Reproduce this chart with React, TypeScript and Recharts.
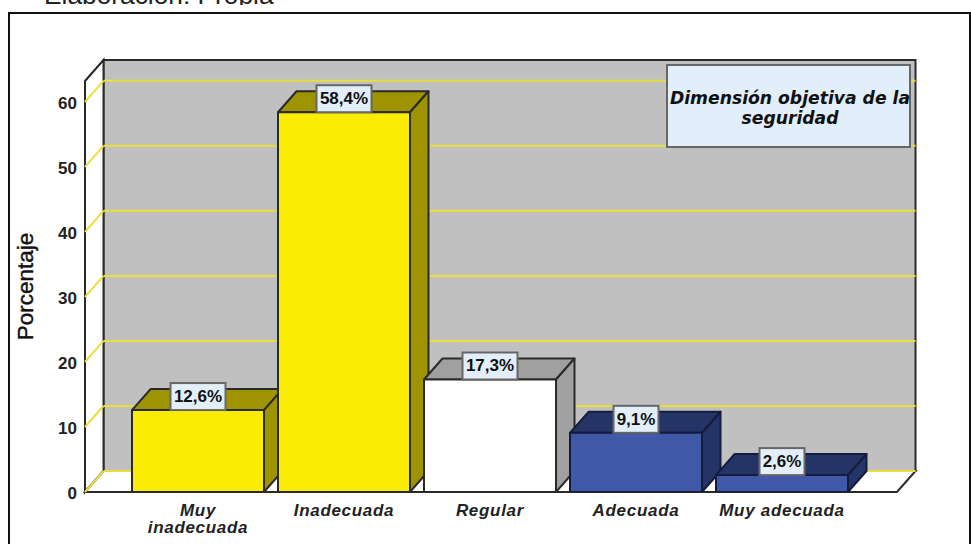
import { Bar, BarChart, CartesianGrid, LabelList, XAxis, YAxis } from "recharts";

const categories = ["Muy inadecuada", "Inadecuada", "Regular", "Adecuada", "Muy adecuada"];
const values = [12.6, 58.4, 17.3, 9.1, 2.6];
const valueLabels = ["12,6%", "58,4%", "17,3%", "9,1%", "2,6%"];
const yTicks = [0, 10, 20, 30, 40, 50, 60];
const frontFills = ["#fbec05", "#fbec05", "#ffffff", "#3f59a8", "#3f59a8"];
const sideFills = ["#9e9300", "#9e9300", "#a0a0a0", "#253466", "#253466"];

const data = categories.map((name, i) => ({ name, value: values[i] }));

const DX = 18.5;
const DY = 21;
const PLOT_LEFT = 85;
const PLOT_RIGHT = 897;
const PLOT_TOP = 81;
const PLOT_BOTTOM = 492;
const EDGE = "#2a2a2a";
const GRID = "#e9df3c";

function Bar3D(props: any) {
  const { x, y, width, height, index } = props;
  const stroke = index >= 3 ? "#141c3c" : EDGE;
  return (
    <g stroke={stroke} strokeWidth={2} strokeLinejoin="round">
      <path
        d={`M${x} ${y} L${x + DX} ${y - DY} H${x + width + DX} L${x + width} ${y} Z`}
        fill={sideFills[index]}
      />
      <path
        d={`M${x + width} ${y} L${x + width + DX} ${y - DY} V${y + height - DY} L${x + width} ${y + height} Z`}
        fill={sideFills[index]}
      />
      <rect x={x} y={y} width={width} height={height} fill={frontFills[index]} />
    </g>
  );
}

function ValueLabel(props: any) {
  const { x, y, width, index } = props;
  const text = valueLabels[index];
  const boxW = text.length > 4 ? 55 : 45;
  const cx = x + width / 2;
  return (
    <g>
      <rect x={cx - boxW / 2} y={y - 27} width={boxW} height={27} fill="#e3eefb" stroke="#666" strokeWidth={2} />
      <text x={cx} y={y - 8} textAnchor="middle" fontFamily="Liberation Sans" fontWeight="bold" fontSize={17} fill="#111">
        {text}
      </text>
    </g>
  );
}

// side wall diagonal plus the line along the back wall
function GridLine3D(props: any) {
  const { x1, y1, x2 } = props;
  return (
    <g stroke={GRID} strokeWidth={2} fill="none">
      <line x1={x1} y1={y1} x2={x1 + DX} y2={y1 - DY} />
      <line x1={x1 + DX} y1={y1 - DY} x2={x2 + DX} y2={y1 - DY} />
    </g>
  );
}

function YTick(props: any) {
  const { y, payload } = props;
  return (
    <text x={77} y={y + 7} textAnchor="end" fontFamily="Liberation Sans" fontWeight="bold" fontSize={17} fill="#222">
      {payload.value}
    </text>
  );
}

function XTick(props: any) {
  const { x, y, payload } = props;
  const lines = payload.value === "Muy inadecuada" ? ["Muy", "inadecuada"] : [payload.value];
  return (
    <text
      x={x}
      y={y + 18}
      textAnchor="middle"
      fontFamily="Liberation Sans"
      fontWeight="bold"
      fontStyle="italic"
      fontSize={17}
      letterSpacing={0.7}
      fill="#222"
    >
      {lines.map((line: string, i: number) => (
        <tspan key={line} x={x} dy={i === 0 ? 0 : 17}>
          {line}
        </tspan>
      ))}
    </text>
  );
}

// frame and box walls sit in their own svg behind the chart, the grid has to paint over them
function Backdrop() {
  return (
    <svg width={971} height={544} style={{ position: "absolute", left: 0, top: 0 }}>
      <text x={44} y={4} fontFamily="Liberation Sans" fontSize={26.3} fill="#222">
        Elaboración: Propia
      </text>
      <rect x={0} y={5} width={971} height={8} fill="#fff" />
      <rect x={9} y={13} width={961} height={540} fill="#fff" stroke="#111" strokeWidth={2} />
      <rect
        x={PLOT_LEFT + DX}
        y={PLOT_TOP - DY}
        width={PLOT_RIGHT - PLOT_LEFT}
        height={PLOT_BOTTOM - PLOT_TOP}
        fill="#c0c0c0"
        stroke={EDGE}
        strokeWidth={2}
      />
      <path
        d={`M${PLOT_LEFT} ${PLOT_TOP} L${PLOT_LEFT + DX} ${PLOT_TOP - DY} V${PLOT_BOTTOM - DY} L${PLOT_LEFT} ${PLOT_BOTTOM} Z`}
        fill="#fff"
        stroke={EDGE}
        strokeWidth={2}
      />
      <path
        d={`M${PLOT_LEFT} ${PLOT_BOTTOM} L${PLOT_LEFT + DX} ${PLOT_BOTTOM - DY} H${PLOT_RIGHT + DX} L${PLOT_RIGHT} ${PLOT_BOTTOM} Z`}
        fill="#fff"
        stroke={EDGE}
        strokeWidth={2}
      />
    </svg>
  );
}

export default function App() {
  return (
    <div style={{ position: "absolute", left: 0, top: 0, width: 971, height: 544, background: "#fff" }}>
      <Backdrop />
      <div style={{ position: "absolute", left: 0, top: 0 }}>
        <BarChart
          width={971}
          height={544}
          data={data}
          margin={{ top: PLOT_TOP, right: 971 - PLOT_RIGHT, bottom: 0, left: 0 }}
          barSize={132}
        >
          <CartesianGrid
            vertical={false}
            horizontal={<GridLine3D />}
            horizontalValues={yTicks}
            syncWithTicks
            stroke={GRID}
          />
          <YAxis
            width={PLOT_LEFT}
            domain={[0, 63.2]}
            ticks={yTicks}
            allowDataOverflow
            axisLine={false}
            tickLine={false}
            tick={<YTick />}
            label={{
              value: "Porcentaje",
              angle: -90,
              position: "insideLeft",
              offset: 25,
              style: { fontFamily: "Liberation Sans", fontSize: 22.5, fill: "#111", stroke: "#111", strokeWidth: 0.4, textAnchor: "middle" },
            }}
          />
          <XAxis
            dataKey="name"
            interval={0}
            height={544 - PLOT_BOTTOM}
            padding={{ left: 40, right: 42 }}
            axisLine={false}
            tickLine={false}
            tick={<XTick />}
            tickMargin={0}
          />
          <Bar dataKey="value" isAnimationActive={false} shape={<Bar3D />}>
            <LabelList dataKey="value" content={<ValueLabel />} />
          </Bar>

          <rect x={667} y={65} width={243} height={82} fill="#e3eefb" stroke="#666" strokeWidth={2} />
          <text x={790} y={104} textAnchor="middle" fontFamily="DejaVu Sans" fontWeight="bold" fontStyle="italic" fontSize={17.2} fill="#111">
            Dimensión objetiva de la
          </text>
          <text x={790} y={124} textAnchor="middle" fontFamily="DejaVu Sans" fontWeight="bold" fontStyle="italic" fontSize={17.2} fill="#111">
            seguridad
          </text>
        </BarChart>
      </div>
    </div>
  );
}
